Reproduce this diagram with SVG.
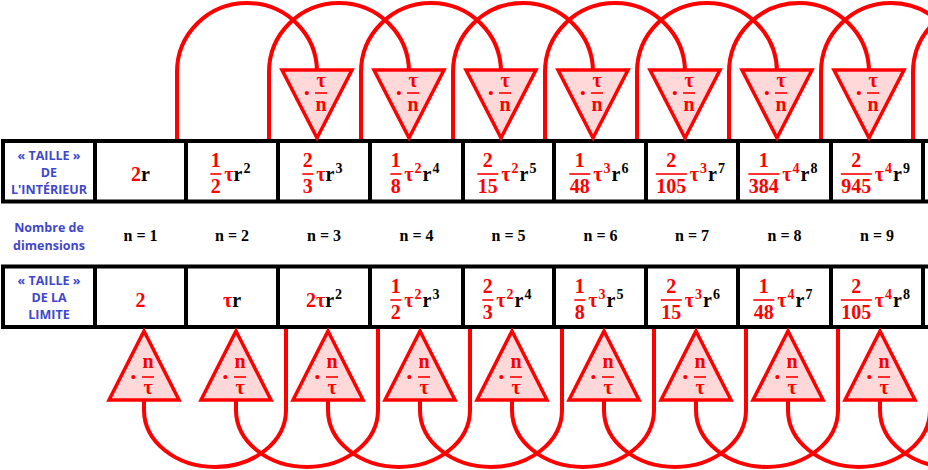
<svg xmlns="http://www.w3.org/2000/svg" width="928" height="470" viewBox="0 0 928 470">
<style>
.con{fill:none;stroke:#FF0000;stroke-width:4}
.tri{fill:#FFD9D9;stroke:#FF0000;stroke-width:3.5;stroke-linejoin:miter}
.grid{fill:#FFFFFF;stroke:#000000;stroke-width:4}
.vl{stroke:#000000;stroke-width:4}
.lab{font-family:"Open Sans","Noto Sans",sans-serif;font-weight:700;font-size:12.5px;fill:#3F48CC;text-anchor:middle}
.m{font-family:"Liberation Serif","DejaVu Serif",serif;font-weight:700;font-size:20px;fill:#000000}
.nn{font-family:"Liberation Serif","DejaVu Serif",serif;font-weight:700;font-size:16px;fill:#000000;text-anchor:middle}
.r{fill:#FF0000}
.s{font-size:14px}
.c{text-anchor:middle}
.dot{font-family:"Liberation Serif","DejaVu Serif",serif;font-weight:700;font-size:15px;fill:#FF0000;text-anchor:middle}
.bar{stroke:#FF0000;stroke-width:1.6}
</style>

<g id="connectors">
<path class="con" d="M177 139V72A70 69 0 0 1 317 72V74"/>
<path class="con" d="M269 139V72A70 69 0 0 1 409 72V74"/>
<path class="con" d="M361 139V72A70 69 0 0 1 501 72V74"/>
<path class="con" d="M453 139V72A70 69 0 0 1 593 72V74"/>
<path class="con" d="M545 139V72A70 69 0 0 1 685 72V74"/>
<path class="con" d="M637 139V72A70 69 0 0 1 777 72V74"/>
<path class="con" d="M729 139V72A70 69 0 0 1 869 72V74"/>
<path class="con" d="M821 139V72A70 69 0 0 1 961 72V74"/>
<path class="con" d="M913 139V72A70 69 0 0 1 1053 72V74"/>
<path class="con" d="M286 329V410A71 57 0 0 1 144 410V398"/>
<path class="con" d="M378 329V410A71 57 0 0 1 236 410V398"/>
<path class="con" d="M470 329V410A71 57 0 0 1 328 410V398"/>
<path class="con" d="M562 329V410A71 57 0 0 1 420 410V398"/>
<path class="con" d="M654 329V410A71 57 0 0 1 512 410V398"/>
<path class="con" d="M746 329V410A71 57 0 0 1 604 410V398"/>
<path class="con" d="M838 329V410A71 57 0 0 1 696 410V398"/>
<path class="con" d="M930 329V410A71 57 0 0 1 788 410V398"/>
<path class="con" d="M1022 329V410A71 57 0 0 1 880 410V398"/>
</g>

<g id="table">
<rect class="grid" x="3" y="141" width="940" height="60.5"/>
<rect class="grid" x="3" y="266.5" width="940" height="60.5"/>
<path class="vl" d="M95 141V201.5M186 141V201.5M278 141V201.5M370 141V201.5M463 141V201.5M554 141V201.5M646 141V201.5M738 141V201.5M831 141V201.5M923 141V201.5"/>
<path class="vl" d="M95 266.5V327M186 266.5V327M278 266.5V327M370 266.5V327M463 266.5V327M554 266.5V327M646 266.5V327M738 266.5V327M831 266.5V327M923 266.5V327"/>
</g>

<g id="label-interieur">
<text class="lab" x="49" y="160">« TAILLE »</text>
<text class="lab" x="49" y="177">DE</text>
<text class="lab" x="49" y="194">L'INTÉRIEUR</text>
</g>
<g id="label-dimensions">
<text class="lab" x="49" y="232">Nombre de</text>
<text class="lab" x="49" y="249.5">dimensions</text>
</g>
<g id="label-limite">
<text class="lab" x="49" y="285">« TAILLE »</text>
<text class="lab" x="49" y="302">DE LA</text>
<text class="lab" x="49" y="319">LIMITE</text>
</g>

<g id="int-1"><text class="m c" x="140.5" y="181" font-size="21"><tspan class="r">2</tspan>r</text></g>
<g id="int-2">
<text class="m r c" x="215.8" y="167">1</text><line class="bar" x1="210.3" y1="174" x2="221.3" y2="174"/><text class="m r c" x="215.8" y="193">2</text>
<text class="m" x="224.3" y="181"><tspan class="r">τ</tspan>r<tspan class="s" dx="1" dy="-8">2</tspan></text>
</g>
<g id="int-3">
<text class="m r c" x="307.8" y="167">2</text><line class="bar" x1="302.3" y1="174" x2="313.3" y2="174"/><text class="m r c" x="307.8" y="193">3</text>
<text class="m" x="316.3" y="181"><tspan class="r">τ</tspan>r<tspan class="s" dx="1" dy="-8">3</tspan></text>
</g>
<g id="int-4">
<text class="m r c" x="395.8" y="167">1</text><line class="bar" x1="390.3" y1="174" x2="401.3" y2="174"/><text class="m r c" x="395.8" y="193">8</text>
<text class="m" x="404.3" y="181"><tspan class="r">τ</tspan><tspan class="r s" dx="1" dy="-8">2</tspan><tspan dx="1" dy="8">r</tspan><tspan class="s" dx="1" dy="-8">4</tspan></text>
</g>
<g id="int-5">
<text class="m r c" x="487.8" y="167">2</text><line class="bar" x1="477.3" y1="174" x2="498.3" y2="174"/><text class="m r c" x="487.8" y="193">15</text>
<text class="m" x="501.3" y="181"><tspan class="r">τ</tspan><tspan class="r s" dx="1" dy="-8">2</tspan><tspan dx="1" dy="8">r</tspan><tspan class="s" dx="1" dy="-8">5</tspan></text>
</g>
<g id="int-6">
<text class="m r c" x="579.8" y="167">1</text><line class="bar" x1="569.3" y1="174" x2="590.3" y2="174"/><text class="m r c" x="579.8" y="193">48</text>
<text class="m" x="593.3" y="181"><tspan class="r">τ</tspan><tspan class="r s" dx="1" dy="-8">3</tspan><tspan dx="1" dy="8">r</tspan><tspan class="s" dx="1" dy="-8">6</tspan></text>
</g>
<g id="int-7">
<text class="m r c" x="671.3" y="167">2</text><line class="bar" x1="655.8" y1="174" x2="686.8" y2="174"/><text class="m r c" x="671.3" y="193">105</text>
<text class="m" x="689.8" y="181"><tspan class="r">τ</tspan><tspan class="r s" dx="1" dy="-8">3</tspan><tspan dx="1" dy="8">r</tspan><tspan class="s" dx="1" dy="-8">7</tspan></text>
</g>
<g id="int-8">
<text class="m r c" x="763.8" y="167">1</text><line class="bar" x1="748.3" y1="174" x2="779.3" y2="174"/><text class="m r c" x="763.8" y="193">384</text>
<text class="m" x="782.3" y="181"><tspan class="r">τ</tspan><tspan class="r s" dx="1" dy="-8">4</tspan><tspan dx="1" dy="8">r</tspan><tspan class="s" dx="1" dy="-8">8</tspan></text>
</g>
<g id="int-9">
<text class="m r c" x="856.3" y="167">2</text><line class="bar" x1="840.8" y1="174" x2="871.8" y2="174"/><text class="m r c" x="856.3" y="193">945</text>
<text class="m" x="874.8" y="181"><tspan class="r">τ</tspan><tspan class="r s" dx="1" dy="-8">4</tspan><tspan dx="1" dy="8">r</tspan><tspan class="s" dx="1" dy="-8">9</tspan></text>
</g>

<g id="dims">
<text class="nn" x="140.5" y="241">n = 1</text>
<text class="nn" x="232" y="241">n = 2</text>
<text class="nn" x="324" y="241">n = 3</text>
<text class="nn" x="416.5" y="241">n = 4</text>
<text class="nn" x="508.5" y="241">n = 5</text>
<text class="nn" x="600.5" y="241">n = 6</text>
<text class="nn" x="692" y="241">n = 7</text>
<text class="nn" x="784.5" y="241">n = 8</text>
<text class="nn" x="877" y="241">n = 9</text>
</g>

<g id="lim-1"><text class="m r c" x="140.5" y="307" font-size="21">2</text></g>
<g id="lim-2"><text class="m c" x="232" y="307" font-size="21"><tspan class="r">τ</tspan>r</text></g>
<g id="lim-3"><text class="m c" x="324" y="307" font-size="21"><tspan class="r">2τ</tspan>r<tspan class="s" dx="1" dy="-8">2</tspan></text></g>
<g id="lim-4">
<text class="m r c" x="395.8" y="293">1</text><line class="bar" x1="390.3" y1="300" x2="401.3" y2="300"/><text class="m r c" x="395.8" y="319">2</text>
<text class="m" x="404.3" y="307"><tspan class="r">τ</tspan><tspan class="r s" dx="1" dy="-8">2</tspan><tspan dx="1" dy="8">r</tspan><tspan class="s" dx="1" dy="-8">3</tspan></text>
</g>
<g id="lim-5">
<text class="m r c" x="487.8" y="293">2</text><line class="bar" x1="482.3" y1="300" x2="493.3" y2="300"/><text class="m r c" x="487.8" y="319">3</text>
<text class="m" x="496.3" y="307"><tspan class="r">τ</tspan><tspan class="r s" dx="1" dy="-8">2</tspan><tspan dx="1" dy="8">r</tspan><tspan class="s" dx="1" dy="-8">4</tspan></text>
</g>
<g id="lim-6">
<text class="m r c" x="579.8" y="293">1</text><line class="bar" x1="574.3" y1="300" x2="585.3" y2="300"/><text class="m r c" x="579.8" y="319">8</text>
<text class="m" x="588.3" y="307"><tspan class="r">τ</tspan><tspan class="r s" dx="1" dy="-8">3</tspan><tspan dx="1" dy="8">r</tspan><tspan class="s" dx="1" dy="-8">5</tspan></text>
</g>
<g id="lim-7">
<text class="m r c" x="671.3" y="293">2</text><line class="bar" x1="660.8" y1="300" x2="681.8" y2="300"/><text class="m r c" x="671.3" y="319">15</text>
<text class="m" x="684.8" y="307"><tspan class="r">τ</tspan><tspan class="r s" dx="1" dy="-8">3</tspan><tspan dx="1" dy="8">r</tspan><tspan class="s" dx="1" dy="-8">6</tspan></text>
</g>
<g id="lim-8">
<text class="m r c" x="763.8" y="293">1</text><line class="bar" x1="753.3" y1="300" x2="774.3" y2="300"/><text class="m r c" x="763.8" y="319">48</text>
<text class="m" x="777.3" y="307"><tspan class="r">τ</tspan><tspan class="r s" dx="1" dy="-8">4</tspan><tspan dx="1" dy="8">r</tspan><tspan class="s" dx="1" dy="-8">7</tspan></text>
</g>
<g id="lim-9">
<text class="m r c" x="856.3" y="293">2</text><line class="bar" x1="840.8" y1="300" x2="871.8" y2="300"/><text class="m r c" x="856.3" y="319">105</text>
<text class="m" x="874.8" y="307"><tspan class="r">τ</tspan><tspan class="r s" dx="1" dy="-8">4</tspan><tspan dx="1" dy="8">r</tspan><tspan class="s" dx="1" dy="-8">8</tspan></text>
</g>

<g id="up-3"><polygon class="tri" points="282,70 352,70 317,138"/><text class="dot" x="307" y="98">•</text><text class="m r c" x="321" y="87">τ</text><line class="bar" x1="315" y1="93" x2="327" y2="93"/><text class="m r c" x="321" y="111">n</text></g>
<g id="up-4"><polygon class="tri" points="374,70 444,70 409,138"/><text class="dot" x="399" y="98">•</text><text class="m r c" x="413" y="87">τ</text><line class="bar" x1="407" y1="93" x2="419" y2="93"/><text class="m r c" x="413" y="111">n</text></g>
<g id="up-5"><polygon class="tri" points="466,70 536,70 501,138"/><text class="dot" x="491" y="98">•</text><text class="m r c" x="505" y="87">τ</text><line class="bar" x1="499" y1="93" x2="511" y2="93"/><text class="m r c" x="505" y="111">n</text></g>
<g id="up-6"><polygon class="tri" points="558,70 628,70 593,138"/><text class="dot" x="583" y="98">•</text><text class="m r c" x="597" y="87">τ</text><line class="bar" x1="591" y1="93" x2="603" y2="93"/><text class="m r c" x="597" y="111">n</text></g>
<g id="up-7"><polygon class="tri" points="650,70 720,70 685,138"/><text class="dot" x="675" y="98">•</text><text class="m r c" x="689" y="87">τ</text><line class="bar" x1="683" y1="93" x2="695" y2="93"/><text class="m r c" x="689" y="111">n</text></g>
<g id="up-8"><polygon class="tri" points="742,70 812,70 777,138"/><text class="dot" x="767" y="98">•</text><text class="m r c" x="781" y="87">τ</text><line class="bar" x1="775" y1="93" x2="787" y2="93"/><text class="m r c" x="781" y="111">n</text></g>
<g id="up-9"><polygon class="tri" points="834,70 904,70 869,138"/><text class="dot" x="859" y="98">•</text><text class="m r c" x="873" y="87">τ</text><line class="bar" x1="867" y1="93" x2="879" y2="93"/><text class="m r c" x="873" y="111">n</text></g>

<g id="down-1"><polygon class="tri" points="144,331 109,400 179,400"/><text class="dot" x="133.5" y="382">•</text><text class="m r c" x="148" y="368">n</text><line class="bar" x1="142" y1="377" x2="154" y2="377"/><text class="m r c" x="148" y="394">τ</text></g>
<g id="down-2"><polygon class="tri" points="236,331 201,400 271,400"/><text class="dot" x="225.5" y="382">•</text><text class="m r c" x="240" y="368">n</text><line class="bar" x1="234" y1="377" x2="246" y2="377"/><text class="m r c" x="240" y="394">τ</text></g>
<g id="down-3"><polygon class="tri" points="328,331 293,400 363,400"/><text class="dot" x="317.5" y="382">•</text><text class="m r c" x="332" y="368">n</text><line class="bar" x1="326" y1="377" x2="338" y2="377"/><text class="m r c" x="332" y="394">τ</text></g>
<g id="down-4"><polygon class="tri" points="420,331 385,400 455,400"/><text class="dot" x="409.5" y="382">•</text><text class="m r c" x="424" y="368">n</text><line class="bar" x1="418" y1="377" x2="430" y2="377"/><text class="m r c" x="424" y="394">τ</text></g>
<g id="down-5"><polygon class="tri" points="512,331 477,400 547,400"/><text class="dot" x="501.5" y="382">•</text><text class="m r c" x="516" y="368">n</text><line class="bar" x1="510" y1="377" x2="522" y2="377"/><text class="m r c" x="516" y="394">τ</text></g>
<g id="down-6"><polygon class="tri" points="604,331 569,400 639,400"/><text class="dot" x="593.5" y="382">•</text><text class="m r c" x="608" y="368">n</text><line class="bar" x1="602" y1="377" x2="614" y2="377"/><text class="m r c" x="608" y="394">τ</text></g>
<g id="down-7"><polygon class="tri" points="696,331 661,400 731,400"/><text class="dot" x="685.5" y="382">•</text><text class="m r c" x="700" y="368">n</text><line class="bar" x1="694" y1="377" x2="706" y2="377"/><text class="m r c" x="700" y="394">τ</text></g>
<g id="down-8"><polygon class="tri" points="788,331 753,400 823,400"/><text class="dot" x="777.5" y="382">•</text><text class="m r c" x="792" y="368">n</text><line class="bar" x1="786" y1="377" x2="798" y2="377"/><text class="m r c" x="792" y="394">τ</text></g>
<g id="down-9"><polygon class="tri" points="880,331 845,400 915,400"/><text class="dot" x="869.5" y="382">•</text><text class="m r c" x="884" y="368">n</text><line class="bar" x1="878" y1="377" x2="890" y2="377"/><text class="m r c" x="884" y="394">τ</text></g>
</svg>
